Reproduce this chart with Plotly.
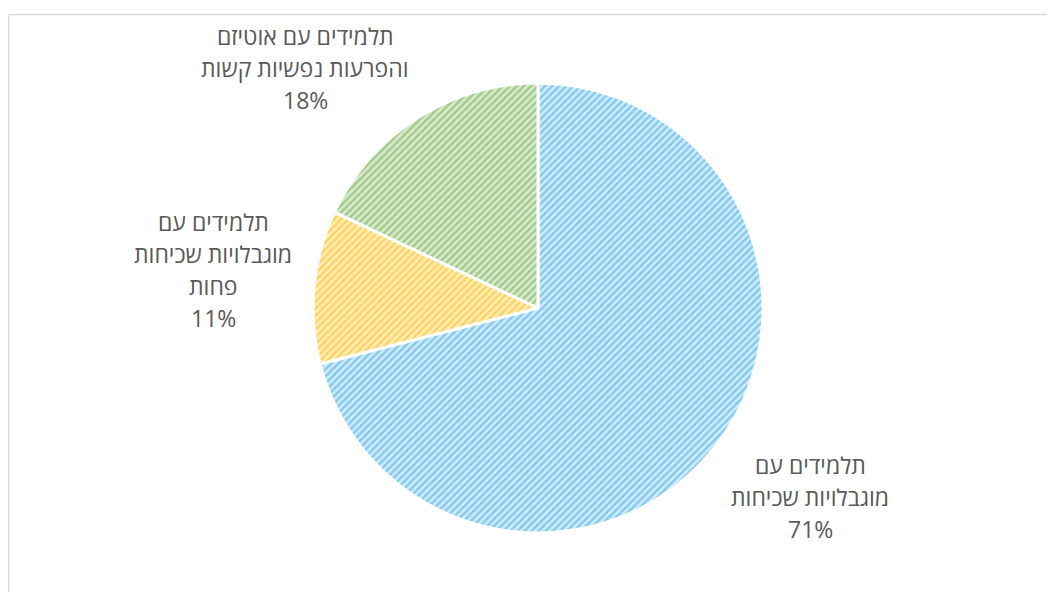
import plotly.graph_objects as go

W, H = 1055, 592
OFF = 8  # page body margin offset

categories = ["תלמידים עם מוגבלויות שכיחות",
              "תלמידים עם מוגבלויות שכיחות פחות",
              "תלמידים עם אוטיזם והפרעות נפשיות קשות"]
values = [71, 11, 18]
label_lines = [
    ["תלמידים עם", "מוגבלויות שכיחות", "71%"],
    ["תלמידים עם", "מוגבלויות שכיחות", "פחות", "11%"],
    ["תלמידים עם אוטיזם", "והפרעות נפשיות קשות", "18%"],
]
fg_colors = ["#3AAAE2", "#FFBA00", "#6AA943"]
bg_colors = ["#D0EBF9", "#FFEDBD", "#DAEAD0"]

# label anchor (pixel center of first line) and line spacing
label_pos = [(810, 465), (213, 222), (305, 36)]
line_gap = 32

cx, top, bot = 538 - OFF, 83 - OFF, 533 - OFF

fig = go.Figure(go.Pie(
    labels=categories,
    values=values,
    sort=False,
    direction="clockwise",
    rotation=0,
    textinfo="none",
    hoverinfo="label+percent",
    showlegend=False,
    domain=dict(x=[(cx - 300) / W, (cx + 300) / W], y=[1 - bot / H, 1 - top / H]),
    marker=dict(
        colors=bg_colors,
        line=dict(color="white", width=3),
        pattern=dict(shape="/", fgcolor=fg_colors, bgcolor=bg_colors,
                     size=5, solidity=0.5, fillmode="overlay"),
    ),
))

annotations = []
for lines, (px, py) in zip(label_lines, label_pos):
    for i, txt in enumerate(lines):
        annotations.append(dict(
            text=txt, x=(px - OFF) / W, y=1 - (py - OFF + i * line_gap) / H,
            xref="paper", yref="paper", xanchor="center", yanchor="middle",
            showarrow=False,
            font=dict(family="Open Sans, Liberation Sans, DejaVu Sans", size=23, color="#595959"),
        ))

shapes = [
    dict(type="line", xref="paper", yref="paper", x0=0.5 / W, x1=1.0,
         y0=1 - 6.5 / H, y1=1 - 6.5 / H, line=dict(color="#D9D9D9", width=1.5)),
    dict(type="line", xref="paper", yref="paper", x0=0.5 / W, x1=0.5 / W,
         y0=1 - 6.5 / H, y1=0, line=dict(color="#D9D9D9", width=1.5)),
]

fig.update_layout(
    width=W, height=H,
    margin=dict(l=0, r=0, t=0, b=0),
    paper_bgcolor="white", plot_bgcolor="white",
    annotations=annotations, shapes=shapes,
)

fig.write_html("out.html")
